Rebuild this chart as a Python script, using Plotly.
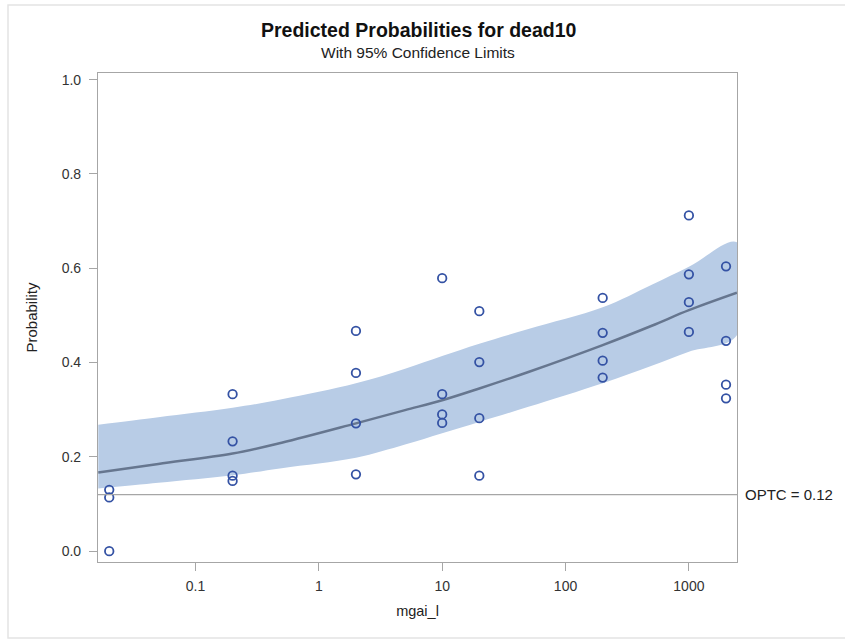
import plotly.graph_objects as go

# Observed proportions by dose
obs_dose = [0.02, 0.02, 0.02,
            0.2, 0.2, 0.2, 0.2,
            2, 2, 2, 2,
            10, 10, 10, 10,
            20, 20, 20, 20,
            200, 200, 200, 200,
            1000, 1000, 1000, 1000,
            2000, 2000, 2000, 2000]
obs_prob = [0.130, 0.114, 0.0,
            0.333, 0.233, 0.160, 0.149,
            0.467, 0.378, 0.271, 0.163,
            0.579, 0.333, 0.290, 0.272,
            0.509, 0.401, 0.282, 0.160,
            0.537, 0.463, 0.404, 0.368,
            0.712, 0.587, 0.528, 0.465,
            0.604, 0.446, 0.353, 0.324]

# Predicted probability and 95% confidence limits
curve_dose = [0.0163, 0.05, 0.2, 0.5, 2, 5, 10, 20, 50, 200, 500, 1000, 2450]
pred = [0.167, 0.185, 0.207, 0.230, 0.271, 0.299, 0.320, 0.345, 0.380, 0.437, 0.478, 0.511, 0.548]
upper = [0.268, 0.284, 0.304, 0.322, 0.356, 0.387, 0.414, 0.440, 0.471, 0.517, 0.565, 0.603, 0.655]
lower = [0.133, 0.145, 0.161, 0.176, 0.198, 0.226, 0.250, 0.274, 0.306, 0.356, 0.393, 0.423, 0.458]

optc = 0.12
x_ticks = [0.1, 1, 10, 100, 1000]
x_tick_text = ["0.1", "1", "10", "100", "1000"]
y_ticks = [0.0, 0.2, 0.4, 0.6, 0.8, 1.0]

W, H = 845, 641
ML, MR, MT, MB = 98, 108, 73, 79

FONT = "Liberation Sans, Arial, sans-serif"
AXIS_GRAY = "#A6A6A6"
TEXT = "#222222"

pw, ph = W - ML - MR, H - MT - MB
def px_x(px):
    return (px - ML) / pw
def px_y(py):
    return (H - MB - py) / ph

fig = go.Figure()

fig.add_trace(go.Scatter(
    x=curve_dose + curve_dose[::-1],
    y=upper + lower[::-1],
    fill="toself", fillcolor="#B8CCE6",
    line=dict(width=0, shape="spline"),
    mode="lines", hoverinfo="skip", showlegend=False))

fig.add_trace(go.Scatter(
    x=curve_dose, y=pred, mode="lines",
    line=dict(color="#66768F", width=2.5, shape="spline"),
    showlegend=False))

fig.add_trace(go.Scatter(
    x=obs_dose, y=obs_prob, mode="markers",
    marker=dict(symbol="circle-open", size=8.5, color="#3452A4",
                line=dict(width=1.8, color="#3452A4")),
    showlegend=False))

fig.add_hline(y=optc, line=dict(color=AXIS_GRAY, width=1.2))
fig.add_annotation(x=1, xref="paper", y=optc, yref="y", xanchor="left",
                   xshift=6, showarrow=False, text=f"OPTC = {optc}",
                   font=dict(size=15, color=TEXT, family=FONT))

# Title and subtitle
fig.add_annotation(x=px_x(418), xref="paper", y=px_y(30), yref="paper",
                   xanchor="center", yanchor="middle", showarrow=False,
                   text="<b>Predicted Probabilities for dead10</b>",
                   font=dict(size=19.5, color="#111111", family=FONT))
fig.add_annotation(x=px_x(418), xref="paper", y=px_y(52), yref="paper",
                   xanchor="center", yanchor="middle", showarrow=False,
                   text="With 95% Confidence Limits",
                   font=dict(size=15.5, color=TEXT, family=FONT))

# Outer page frame
fig.add_shape(type="rect", xref="paper", yref="paper",
              x0=px_x(8), x1=px_x(850), y0=px_y(638), y1=px_y(5),
              line=dict(color="#E4E4E4", width=1.5), layer="below")

fig.update_layout(
    width=W, height=H,
    margin=dict(l=ML, r=MR, t=MT, b=MB),
    paper_bgcolor="white", plot_bgcolor="white",
    font=dict(family=FONT, size=12, color=TEXT),
    xaxis=dict(type="log", range=[-1.79, 3.39],
               tickvals=x_ticks, ticktext=x_tick_text,
               ticks="outside", ticklen=8, tickcolor=AXIS_GRAY,
               ticklabelstandoff=3,
               showline=True, linecolor=AXIS_GRAY, linewidth=1.2, mirror=True,
               showgrid=False, zeroline=False,
               tickfont=dict(size=14, color="#333333"),
               title=dict(text="mgai_l", font=dict(size=14.5), standoff=12)),
    yaxis=dict(range=[-0.023, 1.014],
               tickvals=y_ticks, tickformat=".1f",
               ticks="outside", ticklen=8, tickcolor=AXIS_GRAY,
               ticklabelstandoff=5,
               showline=True, linecolor=AXIS_GRAY, linewidth=1.2, mirror=True,
               showgrid=False, zeroline=False,
               tickfont=dict(size=14, color="#333333"),
               title=dict(text="Probability", font=dict(size=15), standoff=20)),
)

fig.write_html("out.html")
